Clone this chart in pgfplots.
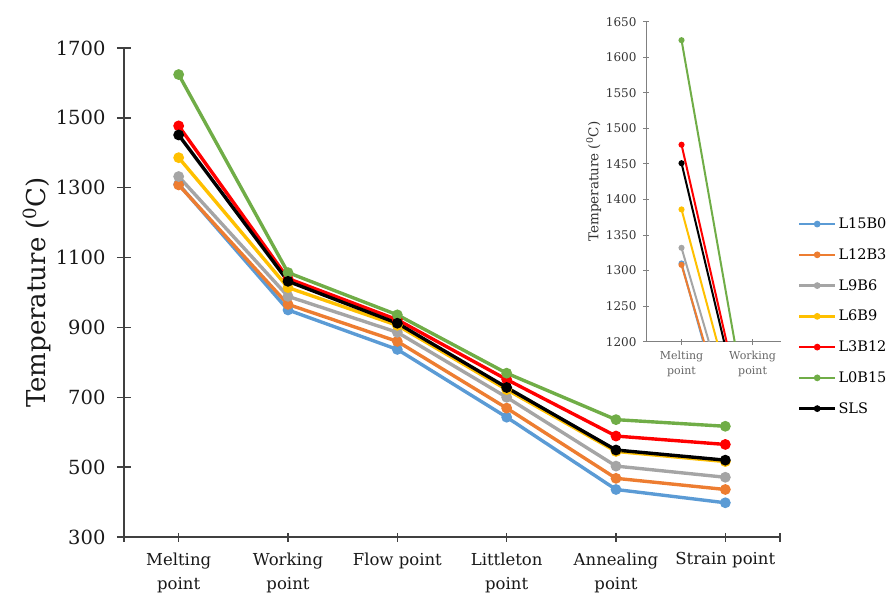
\documentclass[border=0pt]{standalone}
\usepackage{fontspec}
\setmainfont{DejaVu Serif}
\usepackage{pgfplots}
\pgfplotsset{compat=1.18}
\definecolor{cBlue}{HTML}{5B9BD5}
\definecolor{cOrange}{HTML}{ED7D31}
\definecolor{cGray}{HTML}{A5A5A5}
\definecolor{cYellow}{HTML}{FFC000}
\definecolor{cRed}{HTML}{FF0000}
\definecolor{cGreen}{HTML}{70AD47}
\definecolor{axisgray}{HTML}{404040}
\definecolor{insetgray}{HTML}{808080}
\begin{document}
\begin{tikzpicture}[x=1pt,y=1pt]
\path[use as bounding box] (0,0) rectangle (891,595);
\begin{axis}[
  at={(124pt,58pt)}, anchor=south west,
  scale only axis, width=656pt, height=489pt,
  xmin=-0.5, xmax=5.5, ymin=300, ymax=1700,
  axis lines=left,
  axis line style={draw=axisgray, line width=1.6pt, -},
  xtick={-0.5,0,1,2,3,4,5,5.5},
  xticklabels={,Melting\\point,Working\\point,Flow point,Littleton\\point,Annealing\\point,Strain point,},
  ytick={300,500,...,1700},
  tick align=center,
  major tick length=14pt,
  x tick style={/pgfplots/major tick length=9pt},
  tick style={draw=axisgray, line width=1.4pt},
  /pgf/number format/assume math mode=true,
  /pgf/number format/1000 sep={},
  yticklabel style={font=\fontsize{19.5}{19.5}\selectfont, color=black!90, xshift=-8pt},
  xticklabel style={font=\fontsize{16.5}{24}\selectfont, color=black!90, align=center, yshift=-5pt, anchor=north},
  ylabel={Temperature (\textsuperscript{0}C)},
  ylabel style={font=\fontsize{26}{26}\selectfont, color=black!90, yshift=-2pt},
  legend style={at={(1.027,0.657)}, anchor=north west, draw=none, fill=none,
    font=\fontsize{14.5}{14.5}\selectfont, row sep=14.5pt, inner sep=0pt},
  legend cell align=left,
  legend image code/.code={\draw[mark repeat=2,mark phase=2,#1, line width=2.6pt, mark size=2pt] plot coordinates {(0pt,0pt) (18pt,0pt) (36pt,0pt)};},
]
\addplot[cBlue, line width=3.4pt, mark=*, mark size=3.6pt] coordinates {(0,1310)(1,950)(2,837)(3,643)(4,436)(5,398)};
\addlegendentry{L15B0}
\addplot[cOrange, line width=3.4pt, mark=*, mark size=3.6pt] coordinates {(0,1308)(1,966)(2,860)(3,669)(4,468)(5,436)};
\addlegendentry{L12B3}
\addplot[cGray, line width=3.4pt, mark=*, mark size=3.6pt] coordinates {(0,1332)(1,989)(2,886)(3,700)(4,503)(5,471)};
\addlegendentry{L9B6}
\addplot[cYellow, line width=3.4pt, mark=*, mark size=3.6pt] coordinates {(0,1386)(1,1014)(2,906)(3,722)(4,545)(5,516)};
\addlegendentry{L6B9}
\addplot[cRed, line width=3.4pt, mark=*, mark size=3.6pt] coordinates {(0,1477)(1,1040)(2,922)(3,751)(4,589)(5,565)};
\addlegendentry{L3B12}
\addplot[cGreen, line width=3.4pt, mark=*, mark size=3.6pt] coordinates {(0,1624)(1,1057)(2,936)(3,769)(4,636)(5,617)};
\addlegendentry{L0B15}
\addplot[black, line width=3.4pt, mark=*, mark size=3.6pt] coordinates {(0,1451)(1,1032)(2,912)(3,728)(4,549)(5,520)};
\addlegendentry{SLS}
\end{axis}

\begin{axis}[
  at={(646pt,253.3pt)}, anchor=south west,
  scale only axis, width=135pt, height=320pt,
  xmin=-0.5, xmax=1.4, ymin=1200, ymax=1650,
  axis lines=left,
  axis line style={draw=insetgray, line width=1pt, -},
  xtick={0,1}, xticklabels={Melting\\point,Working\\point},
  ytick={1200,1250,...,1650},
  tick align=center, major tick length=6pt,
  tick style={draw=insetgray, line width=0.9pt},
  /pgf/number format/assume math mode=true,
  /pgf/number format/1000 sep={},
  yticklabel style={font=\fontsize{12}{12}\selectfont, color=black!80, xshift=-3pt},
  xticklabel style={font=\fontsize{11}{15}\selectfont, color=black!60, align=center, anchor=north, yshift=-3pt},
  ylabel={Temperature (\textsuperscript{0}C)},
  ylabel style={font=\fontsize{13.5}{13.5}\selectfont, color=black!80, yshift=-2pt},
]
\addplot[cBlue, line width=2pt, mark=*, mark size=2pt] coordinates {(0,1310)(1,950)};
\addplot[cOrange, line width=2pt, mark=*, mark size=2pt] coordinates {(0,1308)(1,966)};
\addplot[cGray, line width=2pt, mark=*, mark size=2pt] coordinates {(0,1332)(1,989)};
\addplot[cYellow, line width=2pt, mark=*, mark size=2pt] coordinates {(0,1386)(1,1014)};
\addplot[cRed, line width=2pt, mark=*, mark size=2pt] coordinates {(0,1477)(1,1040)};
\addplot[cGreen, line width=2pt, mark=*, mark size=2pt] coordinates {(0,1624)(1,1057)};
\addplot[black, line width=2pt, mark=*, mark size=2pt] coordinates {(0,1451)(1,1032)};
\end{axis}
\end{tikzpicture}
\end{document}
